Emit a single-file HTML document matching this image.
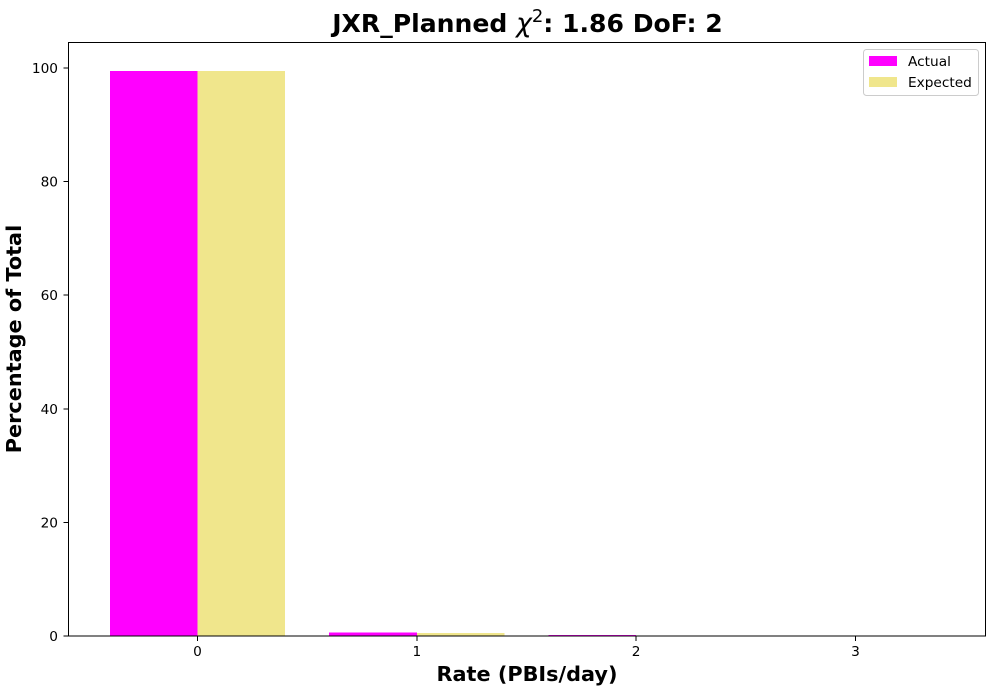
<!DOCTYPE html>
<html lang="en">
<head>
<meta charset="utf-8">
<title>JXR_Planned chart</title>
<style>
html,body{margin:0;padding:0;background:#fff;}
#chart{display:block;width:1000px;height:700px;}
text{font-family:"DejaVu Sans","Liberation Sans",sans-serif;fill:#000;}
</style>
</head>
<body>
<svg id="chart" xmlns="http://www.w3.org/2000/svg" width="1000" height="700" viewBox="0 0 1000 700">
<rect x="0" y="0" width="1000" height="700" fill="#fff"/>
<g id="bars" shape-rendering="crispEdges"></g>
<g id="xticks"></g>
<g id="yticks"></g>
<rect x="68.5" y="42.5" width="917" height="593.5" fill="none" stroke="#000" stroke-width="1" shape-rendering="crispEdges"/>
<text x="527.5" y="32" text-anchor="middle" font-size="25.1" font-weight="bold">JXR_Planned <tspan font-weight="normal" font-style="italic" font-size="26.5">χ</tspan><tspan font-weight="normal" font-size="18" dy="-10">2</tspan><tspan dy="10">: 1.86 DoF: 2</tspan></text>
<text x="527" y="681" text-anchor="middle" font-size="20.8" font-weight="bold">Rate (PBIs/day)</text>
<text transform="translate(21 339) rotate(-90)" text-anchor="middle" font-size="20.8" font-weight="bold">Percentage of Total</text>
<g>
<rect x="863.5" y="49.5" width="115" height="46" rx="3" fill="#fff" fill-opacity="0.8" stroke="#ccc" stroke-width="1"/>
<rect x="869" y="56" width="28" height="10" fill="#ff00ff"/>
<text x="908" y="66" font-size="13.7">Actual</text>
<rect x="869" y="77" width="28" height="10" fill="#f0e68c"/>
<text x="908" y="87" font-size="13.7">Expected</text>
</g>
</svg>
<script>
const categories = [0, 1, 2, 3];
const actualValues = [99.45, 0.6, 0.2, 0];
const expectedValues = [99.45, 0.55, 0.05, 0];
const yTickLabels = [0, 20, 40, 60, 80, 100];
const NS = 'http://www.w3.org/2000/svg';
function xScale(v) { return 197.5 + v * 219.33; }
function yScale(v) { return 636 - v * 5.68; }
function make(tag, attrs, parent) {
  const el = document.createElementNS(NS, tag);
  for (const k in attrs) el.setAttribute(k, attrs[k]);
  parent.appendChild(el);
  return el;
}
const barsGroup = document.getElementById('bars');
const xGroup = document.getElementById('xticks');
const yGroup = document.getElementById('yticks');
const barWidth = 0.4;
categories.forEach(function (c, i) {
  const a = make('rect', {x: xScale(c - barWidth), y: yScale(actualValues[i]), width: xScale(c) - xScale(c - barWidth), height: yScale(0) - yScale(actualValues[i]), fill: '#ff00ff'}, barsGroup);
  
  
  const e = make('rect', {x: xScale(c), y: yScale(expectedValues[i]), width: xScale(c + barWidth) - xScale(c), height: yScale(0) - yScale(expectedValues[i]), fill: '#f0e68c'}, barsGroup);
  
  
  const t = make('line', {x1: xScale(c), x2: xScale(c), y1: 636, y2: 641, stroke: '#000', 'stroke-width': 1, 'shape-rendering': 'crispEdges'}, xGroup);
  
  
  const l = make('text', {x: xScale(c), y: 656, 'text-anchor': 'middle', 'font-size': 13.7}, xGroup);
  
  
  l.textContent = c;
});
yTickLabels.forEach(function (v) {
  const t = make('line', {x1: 63.5, x2: 68.5, y1: yScale(v), y2: yScale(v), stroke: '#000', 'stroke-width': 1, 'shape-rendering': 'crispEdges'}, yGroup);
  
  
  const l = make('text', {x: 58, y: yScale(v) + 5, 'text-anchor': 'end', 'font-size': 13.7}, yGroup);
  
  
  l.textContent = v;
});
</script>
</body>
</html>
